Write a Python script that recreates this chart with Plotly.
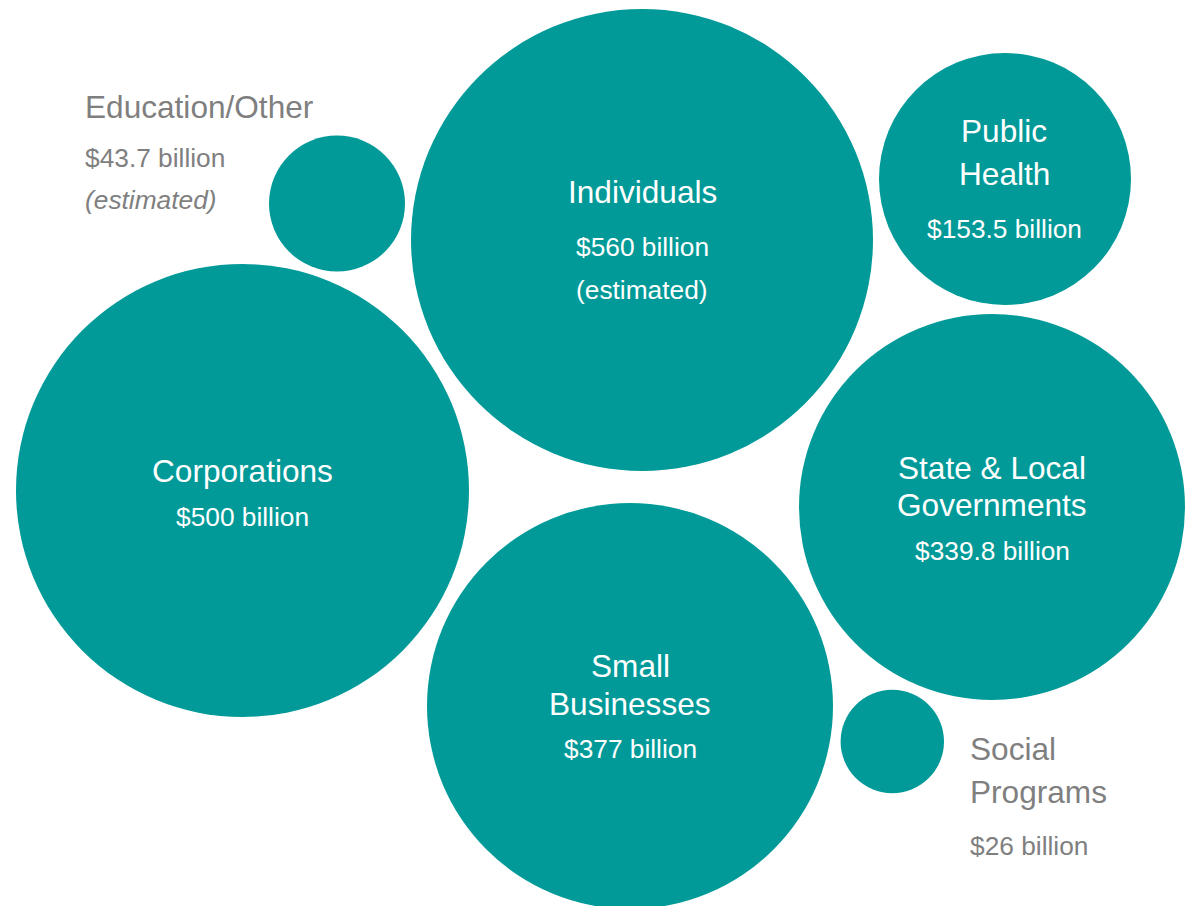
import plotly.graph_objects as go

# ---- data ----
categories = ["Individuals", "Corporations", "Small Businesses", "State & Local Governments",
              "Public Health", "Education/Other", "Social Programs"]
values_billion = [560, 500, 377, 339.8, 153.5, 43.7, 26]
estimated = [True, False, False, False, False, True, False]
name_lines = [["Individuals"], ["Corporations"], ["Small", "Businesses"], ["State & Local", "Governments"],
              ["Public", "Health"], ["Education/Other"], ["Social", "Programs"]]
value_labels = ["$560 billion", "$500 billion", "$377 billion", "$339.8 billion",
                "$153.5 billion", "$43.7 billion", "$26 billion"]

# ---- layout (pixel positions / sizes, not data) ----
W, H = 1194, 906
center_x = [642, 242.5, 630, 992, 1005, 337, 892.3]
center_y = [240, 490.5, 706, 507, 179, 203.5, 741.5]
diameter_px = [462, 453, 406, 386, 252, 136, 103.4]
inside = [True, True, True, True, True, False, False]
label_x = [642, 242, 630, 992, 1004, 83, 968]
label_y = [[192, 247, 290], [471, 517], [666, 704, 749], [468, 505, 551],
           [131, 174, 229], [107, 158, 200], [749, 792, 846]]
NAME_SIZE = 31.6
VALUE_SIZE = 26.3

TEAL = "#019A98"
GREY = "#7F7F7F"
FONT = "Liberation Sans"

fig = go.Figure()
fig.add_trace(go.Scatter(
    x=center_x, y=center_y, mode="markers",
    marker=dict(size=diameter_px, sizemode="diameter", color=TEAL, line=dict(width=0), opacity=1),
    text=categories, customdata=values_billion,
    hovertemplate="%{text}: $%{customdata} billion<extra></extra>",
    cliponaxis=False, showlegend=False,
))

annotations = []
for i, cat in enumerate(categories):
    ys = label_y[i]
    color = "white" if inside[i] else GREY
    xanchor = "center" if inside[i] else "left"
    lines = [(t, NAME_SIZE, False) for t in name_lines[i]]
    lines.append((value_labels[i], VALUE_SIZE, False))
    if estimated[i]:
        lines.append(("(estimated)", VALUE_SIZE, not inside[i]))
    for (txt, size, italic), y in zip(lines, ys):
        annotations.append(dict(
            x=label_x[i], y=y, xref="x", yref="y", text=f"<i>{txt}</i>" if italic else txt,
            showarrow=False, xanchor=xanchor, yanchor="middle",
            font=dict(family=FONT, size=size, color=color),
        ))

fig.update_layout(
    width=W, height=H,
    margin=dict(l=0, r=0, t=0, b=0),
    paper_bgcolor="white", plot_bgcolor="white",
    font=dict(family=FONT),
    xaxis=dict(range=[0, W], visible=False, fixedrange=True),
    yaxis=dict(range=[H, 0], visible=False, fixedrange=True),
    annotations=annotations,
    hovermode="closest",
)

fig.write_html("out.html", config={"displayModeBar": False},
               post_script="document.body.style.margin='0';document.body.style.overflow='hidden';")
